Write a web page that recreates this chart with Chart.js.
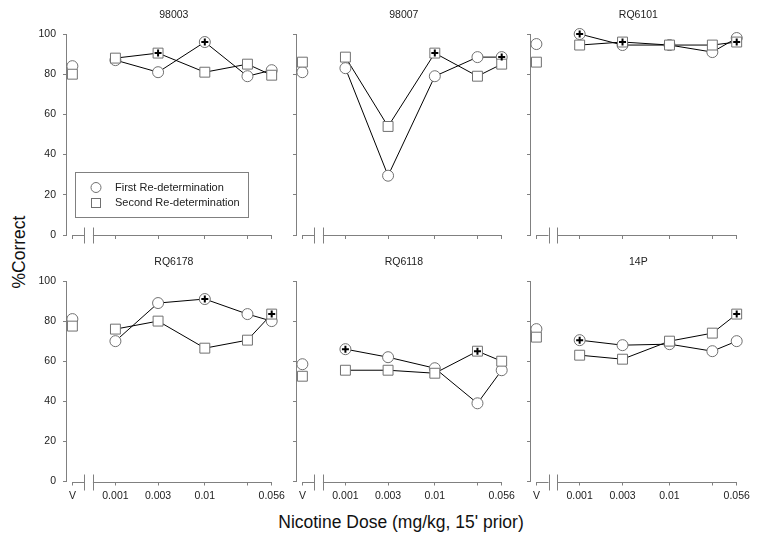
<!DOCTYPE html>
<html>
<head>
<meta charset="utf-8">
<script src="https://cdn.jsdelivr.net/npm/chart.js@4.4.0/dist/chart.umd.min.js"></script>
<style>
    body { margin: 0; background: #fff; }
    #wrap { position: relative; width: 762px; height: 542px; overflow: hidden; font-family: 'Liberation Sans', Arial, sans-serif; }
    #wrap canvas { position: absolute; left: 0; top: 0; }
    #ytitle { position: absolute; left: 19px; top: 252px; transform: translate(-50%, -50%) rotate(-90deg); font-size: 17.5px; color: #111; white-space: nowrap; }
    #xtitle { position: absolute; left: 401px; top: 522px; transform: translate(-50%, -50%); font-size: 17.5px; color: #111; white-space: nowrap; }
</style>
</head>
<body>
<div id="wrap">
    <div id="ytitle">%Correct</div>
    <div id="xtitle">Nicotine Dose (mg/kg, 15' prior)</div>
</div>
<script>
// doses (V = vehicle, drawn left of the axis break)
const doses = [0.00033, 0.001, 0.003, 0.01, 0.03, 0.056];
const doseLabels = ['V', '0.001', '0.003', '0.01', '', '0.056'];
const subjects = ['98003', '98007', 'RQ6101', 'RQ6178', 'RQ6118', '14P'];

// %Correct per subject, one value per dose
const firstValues = [
    [84, 87, 81, 96, 79, 82],
    [81, 83, 29.5, 79, 88.5, 88.5],
    [95, 100, 94.5, 94.5, 91, 98],
    [81, 70, 89, 91, 83.5, 80],
    [58.5, 66, 62, 56.5, 39, 55.5],
    [76, 70.5, 68, 68.5, 65, 70]
];
const secondValues = [
    [80, 88, 90.5, 81, 85, 79.5],
    [86, 88.5, 54, 90.5, 79, 85],
    [86, 94.5, 96, 94.5, 94.5, 96],
    [77.5, 76, 80, 66.5, 70.5, 83.5],
    [52.5, 55.5, 55.5, 54, 65, 60],
    [72, 63, 61, 70, 74, 83.5]
];
// dose indexes marked with a plus
const firstPlus = [[3], [5], [1], [3], [1], [1]];
const secondPlus = [[2], [3], [2, 5], [5], [4], [5]];

const AXIS = '#808080';
const MARK = '#707070';
const TEXT = '#222';
Chart.defaults.font.family = "'Liberation Sans', Arial, sans-serif";

// y-axis x, right end x, top y, bottom y for each panel
const panelBoxes = [
    [66, 271.7, 34, 235], [296, 501.7, 34, 235], [530, 736.7, 34, 235],
    [66, 271.7, 281, 481.5], [296, 501.7, 281, 481.5], [530, 736.7, 281, 481.5]
];

const panelPlugin = {
    id: 'panelDecor',
    afterDraw(chart, args, opts) {
        const { ctx, chartArea } = chart;
        const xs = chart.scales.x;
        const y = Math.round(chartArea.bottom) + 0.5;
        const xv = xs.getPixelForValue(doses[0]);
        const b1 = xs.getPixelForValue(0.00045);
        const b2 = xs.getPixelForValue(0.00056);
        ctx.save();
        ctx.strokeStyle = AXIS;
        ctx.lineWidth = 1;
        ctx.beginPath();
        ctx.moveTo(xv, y); ctx.lineTo(b1, y);
        ctx.moveTo(b2, y); ctx.lineTo(chartArea.right, y);
        ctx.moveTo(Math.round(b1) + 0.5, y - 8); ctx.lineTo(Math.round(b1) + 0.5, y + 8);
        ctx.moveTo(Math.round(b2) + 0.5, y - 8); ctx.lineTo(Math.round(b2) + 0.5, y + 8);
        ctx.stroke();

        // panel title
        ctx.fillStyle = TEXT;
        ctx.font = "10.5px 'Liberation Sans', Arial, sans-serif";
        ctx.textAlign = 'center';
        ctx.textBaseline = 'middle';
        ctx.fillText(opts.title, (chartArea.left + chartArea.right) / 2 + 5, chartArea.top - 18.5);

        if (opts.legend) {
            const lx = chartArea.left + 9, ly = chartArea.top + 138;
            ctx.strokeStyle = AXIS;
            ctx.strokeRect(Math.round(lx) + 0.5, Math.round(ly) + 0.5, 173, 45);
            ctx.strokeStyle = MARK;
            ctx.fillStyle = '#fff';
            ctx.beginPath();
            ctx.arc(lx + 21, ly + 15.5, 5, 0, Math.PI * 2);
            ctx.fill(); ctx.stroke();
            ctx.fillRect(lx + 16.5, ly + 26.5, 9, 9);
            ctx.strokeRect(lx + 16.5, ly + 26.5, 9, 9);
            ctx.fillStyle = TEXT;
            ctx.font = "11px 'Liberation Sans', Arial, sans-serif";
            ctx.textAlign = 'left';
            ctx.fillText('First Re-determination', lx + 40, ly + 15.5);
            ctx.fillText('Second Re-determination', lx + 40, ly + 31);
        }
        ctx.restore();
    }
};

function panelDatasets(i) {
    const pts = vals => vals.map((v, k) => ({ x: doses[k], y: v }));
    const plus = (vals, idx) => idx.map(k => ({ x: doses[k], y: vals[k] }));
    const f = firstValues[i], s = secondValues[i];
    const lineStyle = { showLine: true, pointRadius: 0, borderColor: '#000', borderWidth: 1, clip: false, order: 4 };
    return [
        { ...lineStyle, data: pts(f).slice(1) },
        { ...lineStyle, data: pts(s).slice(1) },
        {
            data: pts(f), showLine: false, pointStyle: 'circle', pointRadius: 5.5,
            pointBackgroundColor: '#fff', pointBorderColor: MARK, pointBorderWidth: 1, clip: false, order: 3
        },
        {
            data: pts(s), showLine: false, pointStyle: 'rect', pointRadius: 7,
            pointBackgroundColor: '#fff', pointBorderColor: MARK, pointBorderWidth: 1, clip: false, order: 2
        },
        {
            data: plus(f, firstPlus[i]).concat(plus(s, secondPlus[i])), showLine: false,
            pointStyle: 'cross', pointRadius: 3.5, pointBorderColor: '#000', pointBorderWidth: 2, clip: false, order: 1
        }
    ];
}

const wrap = document.getElementById('wrap');
subjects.forEach((name, i) => {
    const canvas = document.createElement('canvas');
    canvas.width = 762;
    canvas.height = 542;
    wrap.appendChild(canvas);
    const box = panelBoxes[i];
    const bottomRow = i >= 3;
    const leftCol = i % 3 === 0;

    new Chart(canvas, {
        type: 'scatter',
        data: { datasets: panelDatasets(i) },
        plugins: [panelPlugin],
        options: {
            responsive: false,
            animation: false,
            events: [],
            layout: {
                padding: { left: box[0] - 30, right: 762 - box[1], top: box[2], bottom: 542 - box[3] - 22 }
            },
            plugins: {
                legend: { display: false },
                tooltip: { enabled: false },
                panelDecor: { title: name, legend: i === 0 }
            },
            scales: {
                x: {
                    type: 'logarithmic',
                    min: 0.00028,
                    max: 0.056,
                    bounds: 'data',
                    afterBuildTicks: s => { s.ticks = doses.map(v => ({ value: v })); },
                    afterFit: s => { s.height = 22; },
                    border: { display: false },
                    grid: { drawOnChartArea: false, drawTicks: true, tickLength: 4, color: AXIS },
                    ticks: {
                        autoSkip: false, maxRotation: 0, padding: 4, color: TEXT, font: { size: 10.5 },
                        callback: (v, k) => bottomRow ? doseLabels[k] : ''
                    }
                },
                y: {
                    min: 0,
                    max: 100,
                    afterFit: s => { s.width = 30; },
                    border: { display: true, color: AXIS, width: 1 },
                    grid: { drawOnChartArea: false, drawTicks: true, tickLength: 3, color: AXIS },
                    ticks: {
                        stepSize: 20, padding: 7, color: TEXT, font: { size: 10.5 },
                        callback: v => leftCol ? v : ''
                    }
                }
            }
        }
    });
});
</script>
</body>
</html>
